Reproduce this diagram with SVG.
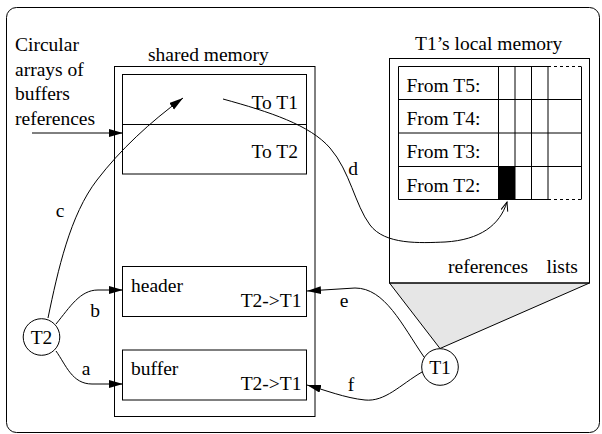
<svg xmlns="http://www.w3.org/2000/svg" width="602" height="434" viewBox="0 0 602 434">
<style>
.t{font-family:"Liberation Serif","Times New Roman",serif;font-size:19.5px;fill:#000}
.e{text-anchor:end}
.m{text-anchor:middle}
.box{fill:none;stroke:#000;stroke-width:1}
.edge{fill:none;stroke:#000;stroke-width:1}
</style>
<defs>
<marker id="ah" markerUnits="userSpaceOnUse" markerWidth="16" markerHeight="10" refX="14" refY="4" orient="auto">
<path d="M0,0 L14,4 L0,8 z" fill="#000"/>
</marker>
<marker id="ov" markerUnits="userSpaceOnUse" markerWidth="12" markerHeight="10" refX="9" refY="4" orient="auto">
<path d="M0,0.5 L9,4 L0,7.5" fill="none" stroke="#000" stroke-width="1"/>
</marker>
</defs>
<rect x="6.5" y="7.5" width="593" height="425" rx="10" fill="#fff" stroke="#000"/>
<g id="label-circular">
<text class="t" x="15" y="51">Circular</text>
<text class="t" x="15" y="75.5">arrays of</text>
<text class="t" x="15" y="100">buffers</text>
<text class="t" x="15" y="124.5">references</text>
</g>
<g id="shared-memory">
<text class="t" x="148" y="61">shared memory</text>
<rect class="box" x="114.5" y="66.5" width="200.5" height="350"/>
</g>
<g id="circular-arrays">
<rect class="box" x="122.5" y="74.5" width="184" height="99.5"/>
<line class="box" x1="122.5" y1="124.5" x2="306.5" y2="124.5"/>
<text class="t e" x="298" y="109">To T1</text>
<text class="t e" x="298" y="158">To T2</text>
</g>
<g id="header">
<rect class="box" x="122.5" y="266.5" width="184" height="50"/>
<text class="t" x="131" y="292">header</text>
<text class="t e" x="301.5" y="307">T2-&gt;T1</text>
</g>
<g id="buffer">
<rect class="box" x="122.5" y="350" width="184" height="50"/>
<text class="t" x="131" y="375">buffer</text>
<text class="t e" x="301.5" y="390">T2-&gt;T1</text>
</g>
<g id="local-memory">
<text class="t" x="415" y="50">T1’s local memory</text>
<polygon points="389.5,283 589.5,283 440,348.5" fill="#e6e6e6" stroke="#000"/>
<rect class="box" x="389.5" y="58.5" width="200" height="224.5"/>
<g stroke="#000" stroke-width="1" fill="none">
<path d="M398.5,66.5 H548 M398.5,99.5 H581.5 M398.5,133 H581.5 M398.5,166.5 H581.5 M398.5,199.5 H548"/>
<path d="M548,66.5 H581.5 M548,199.5 H581.5" stroke-dasharray="3,3"/>
<path d="M398.5,66.5 V199.5 M498.5,66.5 V199.5 M515,66.5 V199.5 M531.5,66.5 V199.5 M548,66.5 V199.5 M581.5,66.5 V199.5"/>
</g>
<rect x="498.5" y="166.5" width="16.5" height="33" fill="#000"/>
<text class="t" x="406.5" y="91.5">From T5:</text>
<text class="t" x="406.5" y="125">From T4:</text>
<text class="t" x="406.5" y="158">From T3:</text>
<text class="t" x="406.5" y="191.5">From T2:</text>
<text class="t" x="448" y="273">references</text>
<text class="t" x="546.5" y="273">lists</text>
</g>
<g id="connectors">
<path class="edge" d="M32,133 L123,133" marker-end="url(#ah)"/>
<path class="edge" d="M48,318 C58,270 70,215 97,180 C120,150 150,122 183,98" marker-end="url(#ah)"/>
<path class="edge" d="M56,324 C70,307 80,290 98,290 L123,290" marker-end="url(#ah)"/>
<path class="edge" d="M56,351 C66,365 72,384 92,384 L123,384" marker-end="url(#ah)"/>
<path class="edge" d="M223,99 C270,112 310,125 330,148 C350,171 355,205 370,225 C385,245 420,243 445,242 C480,240 500,225 507,202" marker-end="url(#ov)"/>
<path class="edge" d="M424,357 C402,325 385,288 355,288 L307,291" marker-end="url(#ah)"/>
<path class="edge" d="M422,372 C400,385 385,402 365,400 C345,398 325,390 307,385" marker-end="url(#ah)"/>
<text class="t m" x="60" y="217">c</text>
<text class="t m" x="95" y="317">b</text>
<text class="t m" x="86" y="375">a</text>
<text class="t m" x="353" y="175">d</text>
<text class="t m" x="344" y="307">e</text>
<text class="t m" x="351" y="391">f</text>
</g>
<g id="T2">
<circle cx="41.5" cy="337" r="18.3" fill="#fff" stroke="#000"/>
<text class="t m" x="41.5" y="344">T2</text>
</g>
<g id="T1">
<circle cx="440" cy="367" r="18.3" fill="#fff" stroke="#000"/>
<text class="t m" x="440" y="374">T1</text>
</g>
</svg>
